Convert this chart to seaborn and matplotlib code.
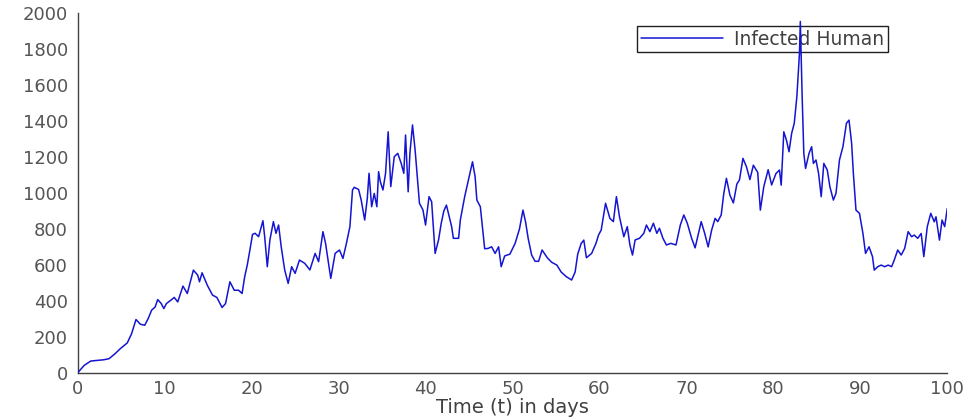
import seaborn as sns
import matplotlib.pyplot as plt
import pandas as pd

# values (day, infected humans)
days = [
    0, 0.75, 1.5, 2.3, 3.0, 3.6, 4.3, 4.9, 5.7, 6.2, 6.7, 7.2, 7.7, 8.1, 8.5, 8.9,
    9.2, 9.6, 9.9, 10.2, 10.8, 11.1, 11.5, 12.1, 12.6, 13.3, 13.8, 14.0, 14.3, 14.9,
    15.5, 16.0, 16.6, 17.0, 17.5, 18.0, 18.5, 18.9, 19.2, 19.5, 19.8, 20.1, 20.4,
    20.8, 21.3, 21.5, 21.8, 22.1, 22.5, 22.8, 23.1, 23.4, 23.8, 24.2, 24.6, 25.0,
    25.5, 26.1, 26.7, 27.3, 27.7, 28.2, 28.5, 29.1, 29.6, 30.1, 30.5, 30.9, 31.3,
    31.6, 31.8, 32.3, 32.6, 33.0, 33.3, 33.5, 33.8, 34.1, 34.4, 34.6, 34.8, 35.1,
    35.4, 35.7, 36.0, 36.4, 36.8, 37.2, 37.5, 37.7, 38.0, 38.2, 38.5, 38.8, 39.1,
    39.3, 39.7, 40.0, 40.4, 40.7, 41.1, 41.5, 41.8, 42.1, 42.4, 43.0, 43.2, 43.8,
    44.0, 44.5, 45.1, 45.4, 45.7, 45.9, 46.3, 46.8, 47.2, 47.6, 48.0, 48.4, 48.7,
    49.1, 49.7, 50.3, 50.8, 51.2, 51.5, 51.8, 52.2, 52.6, 53.0, 53.4, 54.0, 54.5,
    55.1, 55.6, 56.2, 56.8, 57.2, 57.5, 57.9, 58.2, 58.5, 59.1, 59.6, 59.9, 60.2,
    60.7, 61.2, 61.6, 61.95, 62.3, 62.8, 63.2, 63.5, 63.8, 64.1, 64.6, 65.1, 65.4,
    65.8, 66.2, 66.6, 66.9, 67.3, 67.7, 68.2, 68.8, 69.3, 69.7, 70.1, 70.6, 71.0,
    71.3, 71.7, 72.1, 72.5, 72.9, 73.3, 73.6, 74.0, 74.3, 74.6, 75.0, 75.4, 75.8,
    76.1, 76.5, 76.9, 77.3, 77.7, 78.2, 78.5, 78.9, 79.4, 79.8, 80.3, 80.7, 80.9,
    81.2, 81.5, 81.8, 82.1, 82.4, 82.7, 83.0, 83.1, 83.3, 83.5, 83.7, 84.1, 84.4,
    84.6, 84.9, 85.2, 85.5, 85.8, 86.2, 86.5, 86.9, 87.2, 87.6, 88.0, 88.4, 88.7,
    89.0, 89.2, 89.5, 89.9, 90.3, 90.6, 91.0, 91.4, 91.6, 92.0, 92.4, 92.8, 93.2,
    93.6, 93.9, 94.3, 94.7, 95.1, 95.5, 95.9, 96.2, 96.6, 97.0, 97.3, 97.7, 98.1,
    98.5, 98.7, 99.1, 99.4, 99.7, 100.0,
]
infected = [
    0, 41, 65, 69, 72, 78, 106, 134, 166, 218, 296, 270, 264, 301, 348, 366,
    407, 385, 357, 385, 407, 419, 394, 482, 441, 571, 543, 506, 556, 487,
    432, 419, 363, 385, 506, 459, 459, 441, 534, 600, 683, 770, 776,
    757, 846, 757, 590, 739, 841, 776, 822, 701, 572, 497, 590, 553,
    627, 609, 572, 664, 618, 785, 720, 525, 664, 683, 636, 720, 813,
    1017, 1032, 1020, 961, 850, 970, 1110, 924, 998, 924, 1119, 1063, 1017,
    1110, 1341, 1036, 1202, 1221, 1165, 1110, 1323, 1007, 1221, 1379, 1239, 1063,
    943, 906, 822, 980, 952, 664, 740, 831, 900, 933, 813, 748, 748,
    850, 980, 1110, 1174, 1091, 961, 924, 690, 692, 701, 664, 701, 590,
    650, 660, 720, 800, 905, 840, 748, 655, 620, 620, 683, 640, 615,
    599, 560, 534, 516, 560, 660, 720, 738, 640, 664, 720, 767, 794,
    943, 859, 841, 980, 869, 757, 813, 711, 655, 739, 748, 776, 822,
    785, 832, 776, 804, 748, 711, 720, 711, 822, 878, 832, 748, 695,
    757, 841, 776, 700, 794, 859, 841, 878, 999, 1082, 989, 945, 1050,
    1073, 1193, 1147, 1075, 1155, 1115, 905, 1036, 1130, 1045, 1109, 1128, 1044,
    1341, 1295, 1230, 1332, 1388, 1536, 1777, 1955, 1555, 1221, 1137, 1221, 1258,
    1165, 1184, 1109, 980, 1165, 1128, 1035, 961, 998, 1184, 1258, 1388, 1406,
    1276, 1109, 905, 887, 775, 664, 701, 646, 571, 590, 599, 590, 599,
    590, 627, 683, 655, 692, 785, 757, 766, 748, 775, 646, 813, 887,
    840, 868, 738, 850, 813, 915,
]

df = pd.DataFrame({"Time": days, "Infected Human": infected})

sns.set_style("white")
plt.rcParams["font.family"] = ["DejaVu Sans"]

fig = plt.figure(figsize=(9.68, 4.19), dpi=100)
ax = fig.add_axes([0.0803, 0.1105, 0.8983, 0.8575])

sns.lineplot(data=df, x="Time", y="Infected Human", ax=ax, color="#1414d2",
             linewidth=1.1, label="Infected Human", zorder=3)

ax.set_xlim(0, 100)
ax.set_ylim(0, 2000)
ax.set_xticks(range(0, 101, 10))
ax.set_yticks(range(0, 2001, 200))
ax.set_xlabel("Time (t) in days", fontsize=14, color="#404040", labelpad=0)
ax.set_ylabel("")

for side in ["top", "right"]:
    ax.spines[side].set_visible(False)
for side in ["left", "bottom"]:
    ax.spines[side].set_color("#404040")
    ax.spines[side].set_linewidth(1.0)

ax.tick_params(axis="both", direction="in", colors="#404040", labelsize=13,
               labelcolor="#555555", width=0.9)
ax.tick_params(axis="y", length=8, pad=7)
ax.tick_params(axis="x", length=3.5, pad=5)

leg = ax.legend(loc="upper left", bbox_to_anchor=(0.658, 0.938),
                bbox_transform=fig.transFigure, borderaxespad=0,
                fontsize=13.5, handlelength=4.4, frameon=True, fancybox=False,
                framealpha=1, edgecolor="#202020", borderpad=0.2,
                handletextpad=0.6)
leg.get_frame().set_linewidth(1.0)
for t in leg.get_texts():
    t.set_color("#404040")
leg.set_zorder(2)

fig.savefig("out.png", dpi=100)
plt.close(fig)
